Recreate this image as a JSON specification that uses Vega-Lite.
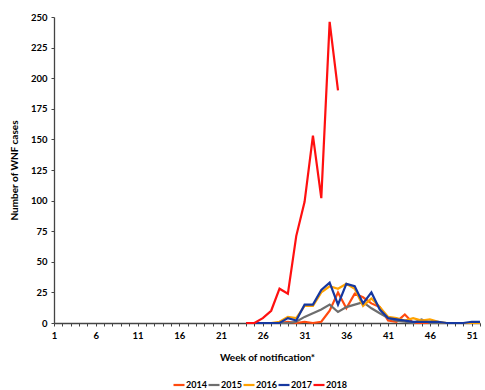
{
  "$schema": "https://vega.github.io/schema/vega-lite/v6.json",
  "width": 426,
  "height": 306,
  "autosize": "none",
  "padding": {"left": 54, "top": 17, "right": 5, "bottom": 67},
  "background": "white",
  "config": {
    "view": {"stroke": null},
    "font": "Lato",
    "axis": {"grid": false, "domainColor": "#444", "tickColor": "#444", "labelFont": "Lato", "labelFontWeight": "bold", "labelFontSize": 9.5, "labelColor": "#000", "titleFont": "Lato", "titleFontWeight": "bold", "titleFontSize": 10, "titleColor": "#000", "domainWidth": 1.3, "tickSize": 3}
  },
  "data": {"values": [
    {"week": 24, "year": "2014", "cases": 0}, {"week": 25, "year": "2014", "cases": 0}, {"week": 26, "year": "2014", "cases": 0}, {"week": 27, "year": "2014", "cases": 0}, {"week": 28, "year": "2014", "cases": 0}, {"week": 29, "year": "2014", "cases": 1}, {"week": 30, "year": "2014", "cases": 0}, {"week": 31, "year": "2014", "cases": 1}, {"week": 32, "year": "2014", "cases": 0}, {"week": 33, "year": "2014", "cases": 1}, {"week": 34, "year": "2014", "cases": 10}, {"week": 35, "year": "2014", "cases": 25}, {"week": 36, "year": "2014", "cases": 12}, {"week": 37, "year": "2014", "cases": 24}, {"week": 38, "year": "2014", "cases": 21}, {"week": 39, "year": "2014", "cases": 16}, {"week": 40, "year": "2014", "cases": 13}, {"week": 41, "year": "2014", "cases": 2}, {"week": 42, "year": "2014", "cases": 1}, {"week": 43, "year": "2014", "cases": 7}, {"week": 44, "year": "2014", "cases": 0}, {"week": 45, "year": "2014", "cases": 0}, {"week": 46, "year": "2014", "cases": 0}, {"week": 47, "year": "2014", "cases": 0}, {"week": 48, "year": "2014", "cases": 0}, {"week": 49, "year": "2014", "cases": 0}, {"week": 50, "year": "2014", "cases": 0}, {"week": 51, "year": "2014", "cases": 0}, {"week": 52, "year": "2014", "cases": 0},
    {"week": 24, "year": "2015", "cases": 0}, {"week": 25, "year": "2015", "cases": 0}, {"week": 26, "year": "2015", "cases": 0}, {"week": 27, "year": "2015", "cases": 0}, {"week": 28, "year": "2015", "cases": 0}, {"week": 29, "year": "2015", "cases": 0}, {"week": 30, "year": "2015", "cases": 1}, {"week": 31, "year": "2015", "cases": 5}, {"week": 32, "year": "2015", "cases": 8}, {"week": 33, "year": "2015", "cases": 11}, {"week": 34, "year": "2015", "cases": 15}, {"week": 35, "year": "2015", "cases": 9}, {"week": 36, "year": "2015", "cases": 13}, {"week": 37, "year": "2015", "cases": 15}, {"week": 38, "year": "2015", "cases": 17}, {"week": 39, "year": "2015", "cases": 12}, {"week": 40, "year": "2015", "cases": 8}, {"week": 41, "year": "2015", "cases": 4}, {"week": 42, "year": "2015", "cases": 2}, {"week": 43, "year": "2015", "cases": 1}, {"week": 44, "year": "2015", "cases": 0}, {"week": 45, "year": "2015", "cases": 3}, {"week": 46, "year": "2015", "cases": 0}, {"week": 47, "year": "2015", "cases": 0}, {"week": 48, "year": "2015", "cases": 0}, {"week": 49, "year": "2015", "cases": 0}, {"week": 50, "year": "2015", "cases": 0}, {"week": 51, "year": "2015", "cases": 0}, {"week": 52, "year": "2015", "cases": 0},
    {"week": 24, "year": "2016", "cases": 0}, {"week": 25, "year": "2016", "cases": 0}, {"week": 26, "year": "2016", "cases": 0}, {"week": 27, "year": "2016", "cases": 0}, {"week": 28, "year": "2016", "cases": 1}, {"week": 29, "year": "2016", "cases": 5}, {"week": 30, "year": "2016", "cases": 4}, {"week": 31, "year": "2016", "cases": 14}, {"week": 32, "year": "2016", "cases": 14}, {"week": 33, "year": "2016", "cases": 25}, {"week": 34, "year": "2016", "cases": 30}, {"week": 35, "year": "2016", "cases": 28}, {"week": 36, "year": "2016", "cases": 32}, {"week": 37, "year": "2016", "cases": 28}, {"week": 38, "year": "2016", "cases": 14}, {"week": 39, "year": "2016", "cases": 20}, {"week": 40, "year": "2016", "cases": 13}, {"week": 41, "year": "2016", "cases": 5}, {"week": 42, "year": "2016", "cases": 4}, {"week": 43, "year": "2016", "cases": 2}, {"week": 44, "year": "2016", "cases": 4}, {"week": 45, "year": "2016", "cases": 2}, {"week": 46, "year": "2016", "cases": 3}, {"week": 47, "year": "2016", "cases": 1}, {"week": 48, "year": "2016", "cases": 0}, {"week": 49, "year": "2016", "cases": 0}, {"week": 50, "year": "2016", "cases": 0}, {"week": 51, "year": "2016", "cases": 0}, {"week": 52, "year": "2016", "cases": 0},
    {"week": 24, "year": "2017", "cases": 0}, {"week": 25, "year": "2017", "cases": 0}, {"week": 26, "year": "2017", "cases": 0}, {"week": 27, "year": "2017", "cases": 0}, {"week": 28, "year": "2017", "cases": 0}, {"week": 29, "year": "2017", "cases": 4}, {"week": 30, "year": "2017", "cases": 2}, {"week": 31, "year": "2017", "cases": 15}, {"week": 32, "year": "2017", "cases": 15}, {"week": 33, "year": "2017", "cases": 27}, {"week": 34, "year": "2017", "cases": 33}, {"week": 35, "year": "2017", "cases": 15}, {"week": 36, "year": "2017", "cases": 32}, {"week": 37, "year": "2017", "cases": 30}, {"week": 38, "year": "2017", "cases": 16}, {"week": 39, "year": "2017", "cases": 25}, {"week": 40, "year": "2017", "cases": 11}, {"week": 41, "year": "2017", "cases": 4}, {"week": 42, "year": "2017", "cases": 3}, {"week": 43, "year": "2017", "cases": 2}, {"week": 44, "year": "2017", "cases": 1}, {"week": 45, "year": "2017", "cases": 1}, {"week": 46, "year": "2017", "cases": 1}, {"week": 47, "year": "2017", "cases": 1}, {"week": 48, "year": "2017", "cases": 0}, {"week": 49, "year": "2017", "cases": 0}, {"week": 50, "year": "2017", "cases": 0}, {"week": 51, "year": "2017", "cases": 1}, {"week": 52, "year": "2017", "cases": 1},
    {"week": 24, "year": "2018", "cases": 0}, {"week": 25, "year": "2018", "cases": 0}, {"week": 26, "year": "2018", "cases": 4}, {"week": 27, "year": "2018", "cases": 10}, {"week": 28, "year": "2018", "cases": 28}, {"week": 29, "year": "2018", "cases": 24}, {"week": 30, "year": "2018", "cases": 71}, {"week": 31, "year": "2018", "cases": 99}, {"week": 32, "year": "2018", "cases": 153}, {"week": 33, "year": "2018", "cases": 102}, {"week": 34, "year": "2018", "cases": 246}, {"week": 35, "year": "2018", "cases": 190}
  ]},
  "mark": {"type": "line", "strokeWidth": 2.2},
  "encoding": {
    "x": {"field": "week", "type": "quantitative", "scale": {"domain": [1, 52], "nice": false, "zero": false},
      "axis": {"title": "Week of notification*", "values": [1,2,3,4,5,6,7,8,9,10,11,12,13,14,15,16,17,18,19,20,21,22,23,24,25,26,27,28,29,30,31,32,33,34,35,36,37,38,39,40,41,42,43,44,45,46,47,48,49,50,51,52],
        "labelExpr": "(datum.value - 1) % 5 == 0 ? datum.label : ''", "labelPadding": 4, "titlePadding": 13, "labelFlush": false}},
    "y": {"field": "cases", "type": "quantitative", "scale": {"domain": [0, 250], "nice": false},
      "axis": {"title": "Number of WNF cases", "values": [0,25,50,75,100,125,150,175,200,225,250], "labelPadding": 4, "titlePadding": 11}},
    "color": {"field": "year", "type": "nominal",
      "scale": {"domain": ["2014","2015","2016","2017","2018"], "range": ["#FF4A0F","#6E6E6E","#FFA200","#1638A0","#FF1010"]},
      "legend": {"title": null, "orient": "none", "direction": "horizontal", "legendX": 118, "legendY": 361, "symbolType": "stroke", "symbolStrokeWidth": 2.2, "symbolSize": 121, "labelFont": "Lato", "labelFontWeight": "bold", "labelFontSize": 9, "labelColor": "#000", "columnPadding": -8, "labelOffset": 0}}
  }
}
